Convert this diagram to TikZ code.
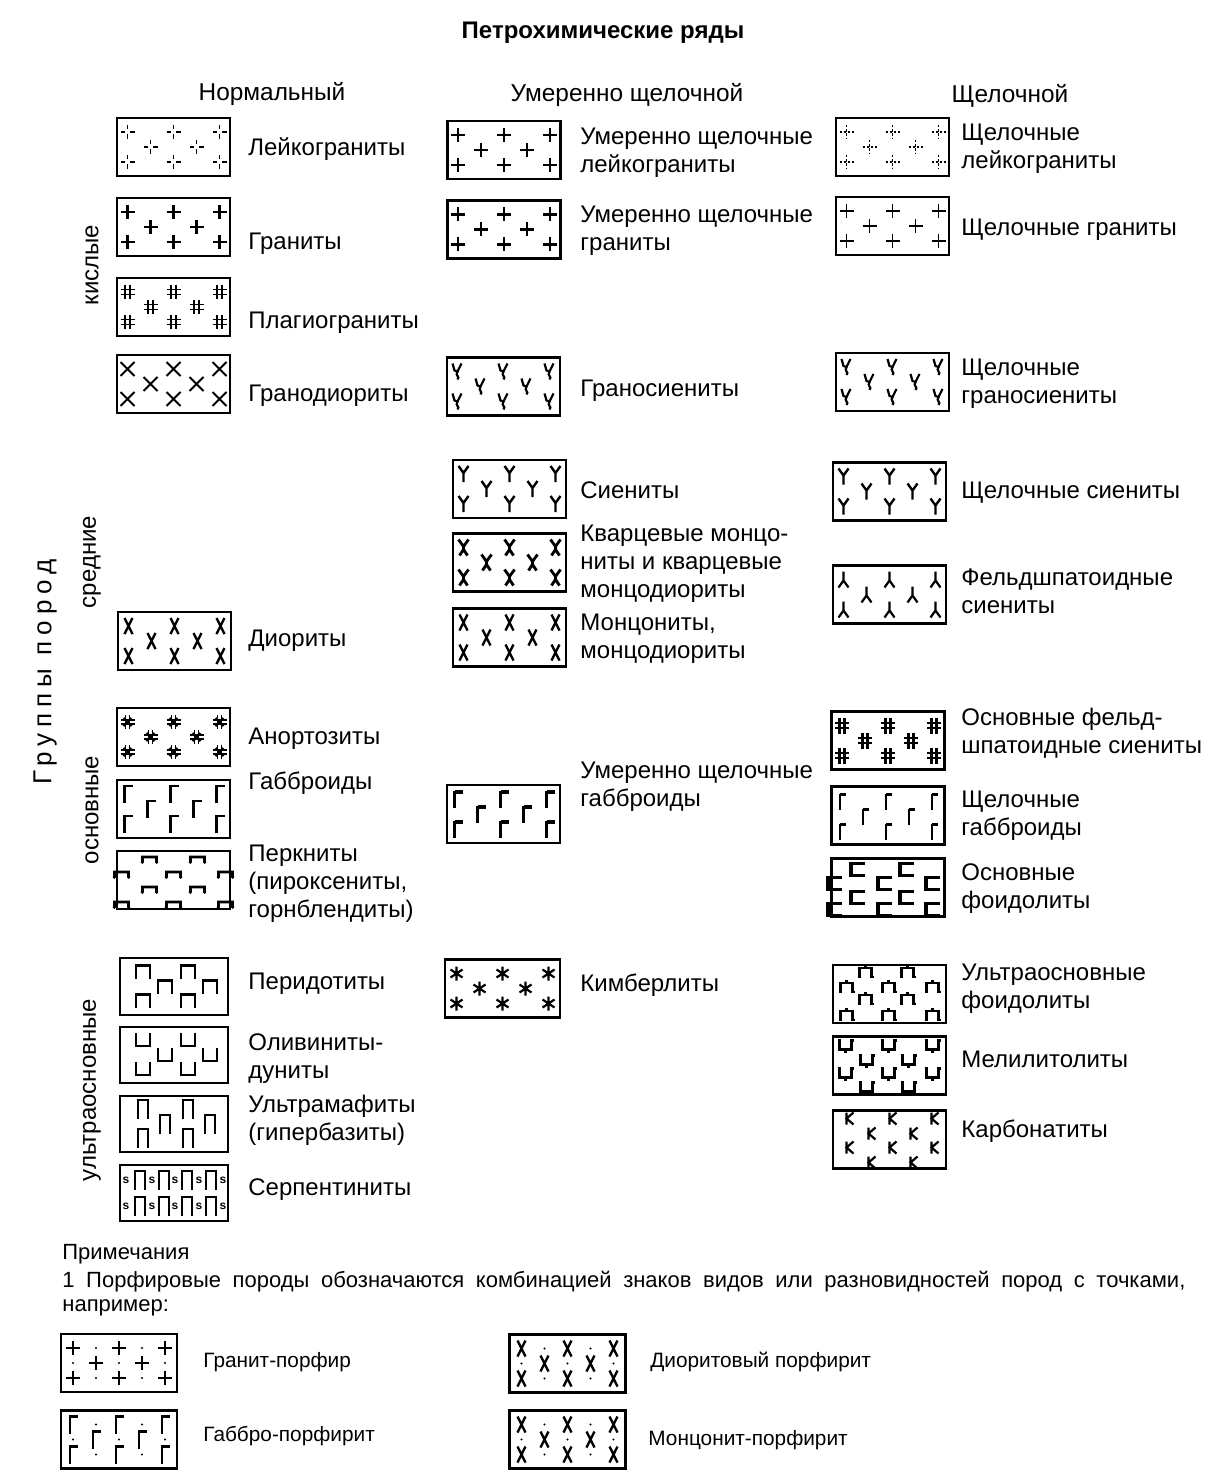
\documentclass[tikz,border=0pt]{standalone}
\usepackage{fontspec}
\setmainfont{Liberation Sans}
\newfontfamily\spacedfont[LetterSpace=23]{Liberation Sans}

\tikzset{
  pics/dcross/.style={code={\draw[line width=0.8pt] (-7,0)--(-2.5,0) (2.5,0)--(7,0) (0,-7)--(0,-2.5) (0,2.5)--(0,7);}},
  pics/dotcross/.style={code={\draw[line width=0.8pt, dash pattern=on 1.2pt off 0.9pt] (-7,0)--(7,0) (0,-7)--(0,7);}},
  pics/plus/.style={code={\draw[line width=1.3pt] (-7,0)--(7,0) (0,-7)--(0,7);}},
  pics/plusthin/.style={code={\draw[line width=0.9pt] (-7,0)--(7,0) (0,-7)--(0,7);}},
  pics/dhash/.style={code={\draw[line width=0.9pt] (-2.5,-7)--(-2.5,7) (2.5,-7)--(2.5,7) (-7,-2.5)--(7,-2.5) (-7,2.5)--(7,2.5);}},
  pics/bhash/.style={code={\draw[line width=1.4pt] (-2.5,-8)--(-2.5,8) (2.5,-8)--(2.5,8); \draw[line width=0.8pt] (-7,-2.5)--(7,-2.5) (-7,2.5)--(7,2.5);}},
  pics/hstar/.style={code={\draw[line width=0.8pt] (-2,-7)--(-2,7) (2,-7)--(2,7) (-7,-2)--(7,-2) (-7,2)--(7,2); \draw[line width=1.1pt] (-4,-4)--(4,4) (-4,4)--(4,-4);}},
  pics/xcross/.style={code={\draw[line width=1pt] (-7,-7)--(7,7) (-7,7)--(7,-7);}},
  pics/xletter/.style={code={\draw[line width=1.2pt] (-4,-8)--(4,8) (4,-8)--(-4,8);}},
  pics/xy/.style={code={\draw[line width=1.4pt] (-5,-8)--(0,-1)--(5,-8) (0,-1)--(0,2) (-4,8)--(0,2)--(4,8);}},
  pics/ysym/.style={code={\draw[line width=1.2pt] (-5,-8)--(0,-1)--(5,-8) (0,-1)--(0,8);}},
  pics/gy/.style={code={\draw[line width=1.1pt] (-5,-8)--(-3,-1)--(0,0)--(4,-8); \draw[line width=1.1pt] (0,0) .. controls (-3,4) and (3,5) .. (0,8);}},
  pics/iy/.style={code={\draw[line width=1.1pt] (0,-8)--(0,1) (-5,8)--(0,1)--(5,8);}},
  pics/star/.style={code={\draw[line width=1.1pt] (0,-7)--(0,7) (-6,-4)--(6,4) (-6,4)--(6,-4);}},
  pics/gamma/.style={code={\draw[line width=1.4pt] (-3,9)--(-3,-8)--(5,-8);}},
  pics/gammaf/.style={code={\draw[line width=1.3pt] (-3,9)--(-3,-8); \draw[line width=2pt] (-3,-7)--(5,-7);}},
  pics/gammat/.style={code={\draw[line width=0.9pt] (-2,9)--(-2,-7); \draw[line width=1.8pt] (-2,-6)--(4,-6);}},
  pics/perk/.style={code={\draw[line width=1.3pt] (-8,4)--(-7,3)--(-7,-2)--(7,-2)--(7,3)--(8,4);}},
  pics/pdot/.style={code={\draw[line width=1.4pt] (-7,7)--(-7,-6)--(7,-6)--(7,7);}},
  pics/olv/.style={code={\draw[line width=1.4pt] (-7,-7)--(-7,6)--(7,6)--(7,-7);}},
  pics/pbar/.style={code={\draw[line width=1.2pt] (-5,10)--(-5,-9)--(5,-9)--(5,10);}},
  pics/sletter/.style={code={\node[inner sep=0, font=\fontsize{6}{6}\selectfont\bfseries] {s};}},
  pics/cbrack/.style={code={\draw[line width=1.6pt] (8,-6)--(-6,-6)--(-6,6)--(8,6);}},
  pics/upt/.style={code={\draw[line width=1.2pt] (-8,5)--(-6,5)--(-6,-4)--(6,-4)--(6,5)--(8,5) (0,-4)--(0,-7);}},
  pics/mel/.style={code={\draw[line width=1.2pt] (-8,-5)--(-6,-5)--(-6,4)--(6,4)--(6,-5)--(8,-5) (0,4)--(0,7);}},
  pics/kk/.style={code={\draw[line width=1.1pt] (-3,-6)--(-3,6) (4,-6)--(-3,0)--(4,6);}},
  pics/pdt/.style={code={\fill (0,0) circle (1.2);}}
}

\def\layA{-46/-15, 0/-15, 46/-15, -23/0, 23/0, -46/15, 0/15, 46/15}
\def\layC{-24/-21, 24/-21, -52/-6, 0/-6, 52/-6, -24/9, 24/9, -52/24, 0/24, 52/24}
\def\layF{-31/-18, 18/-18, -54/-4, -4/-4, 44/-4, -31/10, 18/10, -54/22, -4/22, 44/22}
\def\layU{-24/-22, 18/-22, -43/-7, -1/-7, 43/-7, -24/5, 18/5, -43/21, -1/21, 43/21}
\def\layD{-44/-20, -1/-20, 43/-20, -23/-5, 19/-5, -44/8, -1/8, 43/8, -23/22, 19/22}
\def\layK{-40/-21, 3/-21, 45/-21, -18/-6, 24/-6, -40/8, 3/8, 45/8, -18/23, 24/23}
\def\layE{-31/-15, 14/-15, -9/0, 36/0, -31/14, 14/14}
\def\layDots{-23/-15, 23/-15, -46/0, 0/0, 46/0, -23/15, 23/15}

% box with symbols: {options}{name}{position}{pic}{layout}
\newcommand{\rockbox}[5]{%
  \node[rbox,#1] (#2) at (#3) {};
  \foreach \u/\v in #5 {\path (#2.center) ++(\u,\v) pic {#4};}
}

\begin{document}
\begin{tikzpicture}[x=0.5pt, y=-0.5pt,
  rbox/.style={draw, line width=1.4pt, minimum width=56.5pt, minimum height=29pt, inner sep=0},
  lbl/.style={anchor=west, align=left, inner sep=0, font=\fontsize{12}{14}\selectfont},
  side/.style={rotate=90, inner sep=0, font=\fontsize{12}{14}\selectfont},
  hdr/.style={inner sep=0, font=\fontsize{12.2}{14}\selectfont},
  small/.style={anchor=west, inner sep=0, font=\fontsize{10.4}{12}\selectfont}]
\useasboundingbox (0,0) rectangle (1221,1476);

\node[hdr, font=\fontsize{12}{14}\selectfont\bfseries] (title) at (603,33) {Петрохимические ряды};
\node[hdr] (h1) at (272,94) {Нормальный};
\node[hdr] (h2) at (627,95) {Умеренно щелочной};
\node[hdr] (h3) at (1010,96) {Щелочной};

\node[rotate=90, inner sep=0, font=\spacedfont\fontsize{13}{15}\selectfont] (grp-all) at (45,672) {Группы пород};
\node[side] (kis) at (92,265) {кислые};
\node[side] (sre) at (92,562) {средние};
\node[side] (osn) at (92,810) {основные};
\node[side] (uos) at (92,1090) {ультраосновные};

% normal series
\rockbox{}{lg}{173.5,147}{dcross}{\layA}
\rockbox{}{gr}{173.5,227}{plus}{\layA}
\rockbox{}{pg}{173.5,307}{dhash}{\layA}
\rockbox{}{gd}{173.5,384}{xcross}{\layA}
\rockbox{}{dr}{174.5,641}{xletter}{\layA}
\rockbox{}{an}{173.5,737}{hstar}{\layA}
\rockbox{}{gb}{173.5,809}{gamma}{\layA}
\rockbox{}{pk}{173.5,880}{perk}{\layC}
\rockbox{minimum width=54pt, minimum height=28.5pt}{pd}{174,986.5}{pdot}{\layE}
\rockbox{minimum width=54pt, minimum height=28pt}{ol}{174,1055}{olv}{\layE}
\rockbox{minimum width=54pt, minimum height=28pt}{um}{174,1124}{pbar}{\layE}
\node[rbox, minimum width=54pt, minimum height=28pt] (sp) at (174,1193) {};
\foreach \u in {-34,-10,13,37} {\path (sp.center) ++(\u,-13) pic {pbar}; \path (sp.center) ++(\u,13) pic {pbar};}
\foreach \u in {-48,-22,1,25,49} {\path (sp.center) ++(\u,-13) pic {sletter}; \path (sp.center) ++(\u,13) pic {sletter};}

\node[lbl] (lg-t) at (248,149) {Лейкограниты};
\node[lbl] (gr-t) at (248,244) {Граниты};
\node[lbl] (pg-t) at (248,323) {Плагиограниты};
\node[lbl] (gd-t) at (248,396) {Гранодиориты};
\node[lbl] (dr-t) at (248,641) {Диориты};
\node[lbl] (an-t) at (248,739) {Анортозиты};
\node[lbl] (gb-t) at (248,783) {Габброиды};
\node[lbl] (pk-t) at (248,884) {Перкниты\\(пироксениты,\\горнблендиты)};
\node[lbl] (pd-t) at (248,984) {Перидотиты};
\node[lbl] (ol-t) at (248,1059) {Оливиниты-\\дуниты};
\node[lbl] (um-t) at (248,1120) {Ультрамафиты\\(гипербазиты)};
\node[lbl] (sp-t) at (248,1190) {Серпентиниты};

% moderately alkaline series
\rockbox{}{mlg}{504,150}{plusthin}{\layA}
\rockbox{}{mgr}{504,229.5}{plus}{\layA}
\rockbox{}{gs}{503.5,386.5}{gy}{\layA}
\rockbox{}{sn}{509.5,489}{ysym}{\layA}
\rockbox{}{qm}{509.5,562.5}{xy}{\layA}
\rockbox{}{mz}{509.5,637.5}{xletter}{\layA}
\rockbox{}{mgb}{503.5,814}{gammaf}{\layA}
\rockbox{minimum width=57.5pt}{km}{502.5,988.5}{star}{\layA}

\node[lbl] (mlg-t) at (580,153) {Умеренно щелочные\\лейкограниты};
\node[lbl] (mgr-t) at (580,231) {Умеренно щелочные\\граниты};
\node[lbl] (gs-t) at (580,391) {Граносиениты};
\node[lbl] (sn-t) at (580,490) {Сиениты};
\node[lbl] (qm-t) at (580,564) {Кварцевые монцо-\\ниты и кварцевые\\монцодиориты};
\node[lbl] (mz-t) at (580,639) {Монцониты,\\монцодиориты};
\node[lbl] (mgb-t) at (580,787) {Умеренно щелочные\\габброиды};
\node[lbl] (km-t) at (580,985) {Кимберлиты};

% alkaline series
\rockbox{}{alg}{892.5,147}{dotcross}{\layA}
\rockbox{}{agr}{892.5,226}{plusthin}{\layA}
\rockbox{}{ags}{892.5,382}{gy}{\layA}
\rockbox{}{asn}{889.5,491.5}{ysym}{\layA}
\rockbox{}{fs}{889.5,594.5}{iy}{\layA}
\rockbox{}{bfs}{888,740.5}{bhash}{\layA}
\rockbox{}{agb}{888,815.5}{gammat}{\layA}
\rockbox{}{bfd}{888,887.5}{cbrack}{\layF}
\rockbox{}{ufd}{889.5,994}{upt}{\layU}
\rockbox{}{ml}{889.5,1065.5}{mel}{\layD}
\rockbox{}{kb}{889.5,1139.5}{kk}{\layK}

\node[lbl] (alg-t) at (961,149) {Щелочные\\лейкограниты};
\node[lbl] (agr-t) at (961,230) {Щелочные граниты};
\node[lbl] (ags-t) at (961,384) {Щелочные\\граносиениты};
\node[lbl] (asn-t) at (961,493) {Щелочные сиениты};
\node[lbl] (fs-t) at (961,591) {Фельдшпатоидные\\сиениты};
\node[lbl] (bfs-t) at (961,733) {Основные фельд-\\шпатоидные сиениты};
\node[lbl] (agb-t) at (961,816) {Щелочные\\габброиды};
\node[lbl] (bfd-t) at (961,889) {Основные\\фоидолиты};
\node[lbl] (ufd-t) at (961,989) {Ультраосновные\\фоидолиты};
\node[lbl] (ml-t) at (961,1059) {Мелилитолиты};
\node[lbl] (kb-t) at (961,1131) {Карбонатиты};

% notes
\node[anchor=base west, inner sep=0, font=\fontsize{11}{12}\selectfont] (prim) at (62,1259) {Примечания};
\node[anchor=base west, inner sep=0, font=\fontsize{11}{12}\selectfont] (note1) at (62,1287)
  {\hbox to 561.5pt{1 Порфировые породы обозначаются комбинацией знаков видов или разновидностей пород с точками,}};
\node[anchor=base west, inner sep=0, font=\fontsize{11}{12}\selectfont] (note2) at (62,1311) {например:};

\rockbox{minimum width=58pt}{grp}{119,1363}{plus}{\layA}
\foreach \u/\v in \layDots {\path (grp.center) ++(\u,\v) pic {pdt};}
\rockbox{minimum width=58pt}{gbp}{119,1439.5}{gamma}{\layA}
\foreach \u/\v in \layDots {\path (gbp.center) ++(\u,\v) pic {pdt};}
\rockbox{minimum width=58pt}{drp}{567.5,1363.5}{xletter}{\layA}
\foreach \u/\v in \layDots {\path (drp.center) ++(\u,\v) pic {pdt};}
\rockbox{minimum width=58pt}{mzp}{567.5,1439.5}{xletter}{\layA}
\foreach \u/\v in \layDots {\path (mzp.center) ++(\u,\v) pic {pdt};}

\node[small] (grp-t) at (203,1362) {Гранит-порфир};
\node[small] (gbp-t) at (203,1436) {Габбро-порфирит};
\node[small] (drp-t) at (650,1362) {Диоритовый порфирит};
\node[small] (mzp-t) at (648,1440) {Монцонит-порфирит};
\end{tikzpicture}
\end{document}
